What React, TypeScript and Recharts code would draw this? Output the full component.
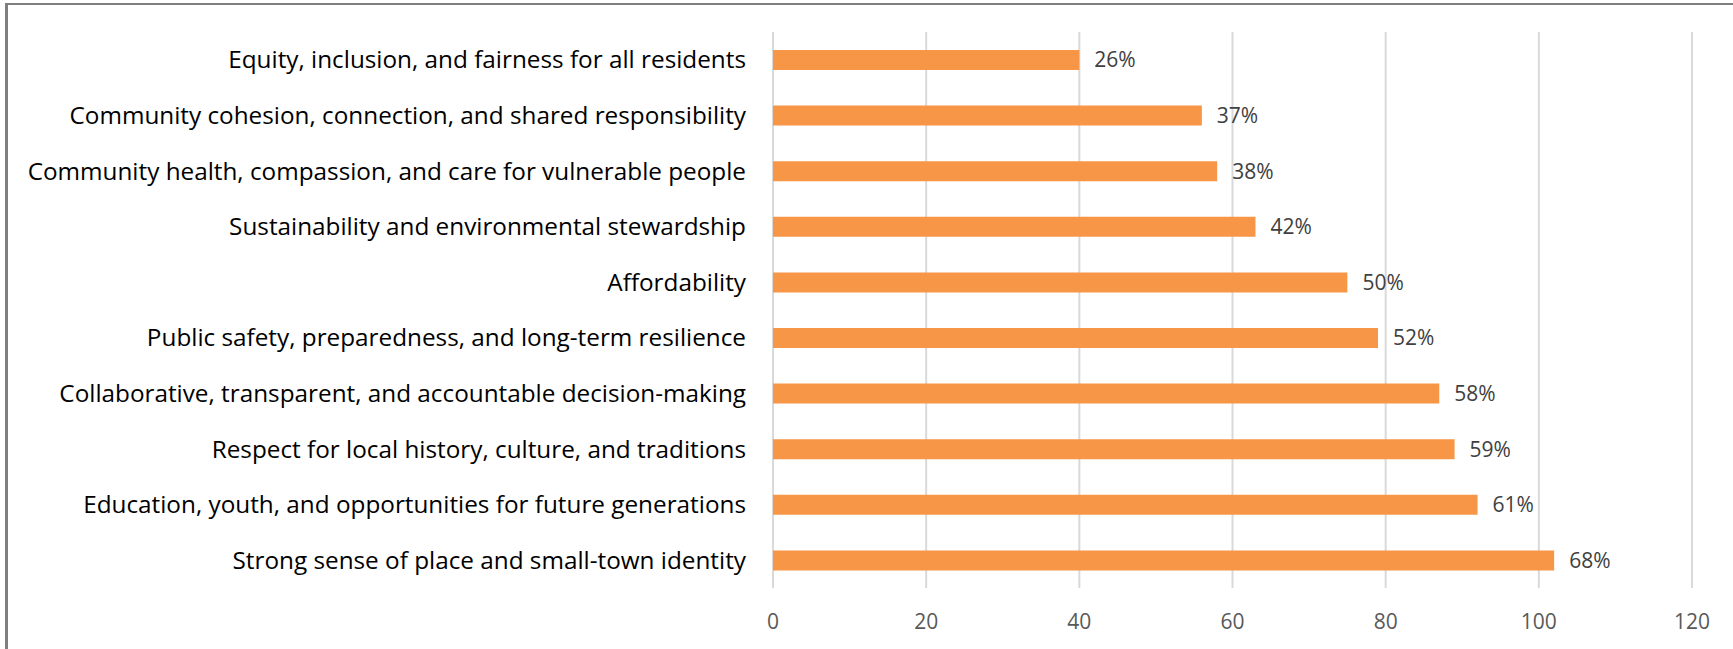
import React from 'react'
import { BarChart, Bar, XAxis, YAxis, CartesianGrid, LabelList } from 'recharts'

const categories = [
  'Equity, inclusion, and fairness for all residents',
  'Community cohesion, connection, and shared responsibility',
  'Community health, compassion, and care for vulnerable people',
  'Sustainability and environmental stewardship',
  'Affordability',
  'Public safety, preparedness, and long-term resilience',
  'Collaborative, transparent, and accountable decision-making',
  'Respect for local history, culture, and traditions',
  'Education, youth, and opportunities for future generations',
  'Strong sense of place and small-town identity',
]
const counts = [40, 56, 58, 63, 75, 79, 87, 89, 92, 102]
const percentLabels = ['26%', '37%', '38%', '42%', '50%', '52%', '58%', '59%', '61%', '68%']
const xTicks = [0, 20, 40, 60, 80, 100, 120]

const data = categories.map((name, i) => ({ name, count: counts[i], pct: percentLabels[i] }))

const FONT = '"Open Sans", Lato, sans-serif'

export default function App() {
  return (
    <div style={{ position: 'absolute', left: 0, top: 0, width: 1733, height: 649, background: '#fff', overflow: 'hidden' }}>
      {/* frame edge from the source document */}
      <div
        style={{
          position: 'absolute',
          left: 5,
          top: 3,
          width: 1740,
          height: 660,
          borderLeft: '3px solid #7f7f7f',
          borderTop: '2px solid #7f7f7f',
          boxSizing: 'border-box',
        }}
      />
      <BarChart
        width={1733}
        height={649}
        data={data}
        layout="vertical"
        margin={{ top: 32, right: 41, bottom: 0, left: 0 }}
        barCategoryGap={0}
      >
        <CartesianGrid horizontal={false} stroke="#d9d9d9" strokeWidth={2} />
        <XAxis
          type="number"
          domain={[0, 120]}
          ticks={xTicks}
          height={61}
          axisLine={false}
          tickLine={false}
          tickMargin={20}
          tick={{ fill: '#595959', fontSize: 21, fontFamily: FONT }}
        />
        <YAxis
          type="category"
          dataKey="name"
          width={773}
          axisLine={false}
          tickLine={false}
          tickSize={0}
          tickMargin={27}
          interval={0}
          tick={{ fill: '#000', fontSize: 24.3, fontFamily: FONT }}
        />
        <Bar dataKey="count" fill="#f79646" barSize={20} isAnimationActive={false}>
          <LabelList
            dataKey="pct"
            position="right"
            offset={15}
            style={{ fill: '#404040', fontSize: 21, fontFamily: FONT }}
          />
        </Bar>
      </BarChart>
    </div>
  )
}
